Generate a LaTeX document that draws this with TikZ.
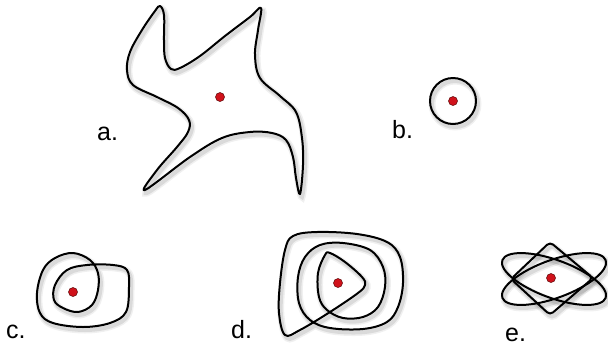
\documentclass[tikz,border=0pt]{standalone}
\usepackage{fontspec}
\setmainfont{Liberation Sans}
\usepackage{xcolor}
\definecolor{punktrot}{HTML}{D0121B}
\definecolor{punktrand}{HTML}{5A0808}
\usetikzlibrary{positioning}
\usetikzlibrary{calc}

\begin{document}
\begin{tikzpicture}[x=1pt, y=-1pt,
	kurve/.style={line width=2pt, line join=round,
		preaction={draw=black, opacity=0.06, line width=7pt, transform canvas={xshift=2pt, yshift=-3pt}},
		preaction={draw=black, opacity=0.09, line width=4pt, transform canvas={xshift=2pt, yshift=-3pt}}},
	punkt/.style={circle, fill=punktrot, draw=punktrand, line width=0.5pt, inner sep=0pt, minimum size=9pt},
	marke/.style={anchor=base west, inner sep=0pt, font=\fontsize{25}{29}\selectfont}]

	%Rahmen
	\useasboundingbox (0,0) rectangle (608,349);

	%Mittelpunkte
	\coordinate (mA) at (220,97);
	\coordinate (mB) at (453,101);
	\coordinate (mC) at (73,292);
	\coordinate (mD) at (338,283);
	\coordinate (mE) at (551,278);
	\coordinate (mO) at (554,279);

	%a: Stern
	\draw [kurve] plot [smooth cycle, tension=0.6] coordinates {
		(160,6) (164,15) (164,40) (165,58) (171,69) (180,68) (200,56) (225,36) (250,17)
		(261,8) (258,30) (255,55) (260,78) (280,96) (296,112) (302,138) (303,165)
		(300,194) (296,178) (293,157) (286,140) (272,133) (250,132) (222,138) (190,157)
		(145,190) (157,170) (177,147) (188,132) (189,120) (178,108) (157,97) (133,85)
		(127,70) (130,52) (142,30) (155,11)};

	%b: Kreis
	\draw [kurve] (mB) circle [radius=23];

	%c: zwei Umlaeufe
	\draw [kurve] plot [smooth cycle, tension=0.6] coordinates {
		(73,253) (55,258) (43,270) (37,293) (40,313) (53,323) (83,327) (110,323)
		(126,312) (129,287) (127,270) (113,265) (87,265) (67,270) (55,285) (54,300)
		(63,308) (78,312) (92,305) (98,290) (98,273) (90,260)};

	%d: drei Umlaeufe
	\draw [kurve] plot [smooth cycle, tension=0.6] coordinates {
		(285,335) (279,313) (280,283) (285,250) (293,236) (317,232) (357,234) (387,242)
		(400,257) (403,283) (398,307) (387,322) (363,329) (330,328) (310,320) (299,303)
		(298,277) (305,257) (320,245) (343,243) (370,250) (383,267) (385,287) (378,307)
		(363,317) (343,318) (327,310) (319,297) (318,273) (325,255) (330,253) (345,262)
		(362,277) (365,285) (358,293) (330,312) (300,330)};

	%e: Ellipsen und Raute
	\draw [kurve, rotate around={20:(mO)}] (mO) ellipse [x radius=55, y radius=19];
	\draw [kurve, rotate around={-20:(mO)}] (mO) ellipse [x radius=55, y radius=19];
	\draw [kurve, rounded corners=4pt] (550,242) -- (593,278) -- (550,315) -- (511,279) -- cycle;

	%Punkte
	\node [punkt] (pA) at (mA) {};
	\node [punkt] (pB) at (mB) {};
	\node [punkt] (pC) at (mC) {};
	\node [punkt] (pD) at (mD) {};
	\node [punkt] (pE) at (mE) {};

	%Beschriftung
	\node [marke] (la) at (97,140) {a.};
	\node [marke] (lb) at (392,138) {b.};
	\node [marke] (lc) at (6,338) {c.};
	\node [marke] (ld) at (231,338) {d.};
	\node [marke] (le) at (505,341) {e.};
\end{tikzpicture}
\end{document}
